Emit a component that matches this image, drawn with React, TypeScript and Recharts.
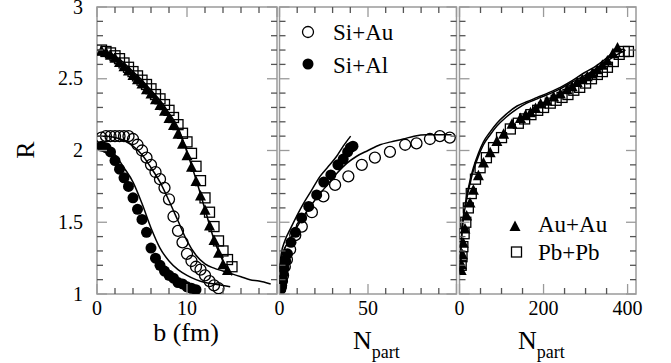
import React from "react"
import { ComposedChart, Line, Scatter, XAxis, YAxis, ReferenceArea } from "recharts"

const FONT = "Liberation Serif, Tinos, Times New Roman, serif"
const W = 671
const H = 363
const PLOT_TOP = 7
const PLOT_BOTTOM = 294
const PLOT_H = PLOT_BOTTOM - PLOT_TOP

// shared R axis
const rTicks = [1, 1.1, 1.2, 1.3, 1.4, 1.5, 1.6, 1.7, 1.8, 1.9, 2, 2.1, 2.2, 2.3, 2.4, 2.5, 2.6, 2.7, 2.8, 2.9, 3]
const rMajor = [1, 1.5, 2, 2.5, 3]

// panel 1 : b (fm)
const bTicks = [0, 2, 4, 6, 8, 10, 12, 14, 16, 18, 20]
const bMajor = [0, 10, 20]
const bLabels = [0, 10]

const auAuB = [0.5, 1, 1.5, 2, 2.5, 3, 3.5, 4, 4.5, 5, 5.5, 6, 6.5, 7, 7.5, 8, 8.5, 9, 9.5, 10, 10.5, 11, 11.5, 12, 12.5, 13, 13.5, 14, 14.5]
const auAuBR = [2.69, 2.68, 2.66, 2.64, 2.61, 2.58, 2.55, 2.52, 2.49, 2.46, 2.42, 2.39, 2.35, 2.31, 2.27, 2.22, 2.17, 2.11, 2.04, 1.96, 1.88, 1.78, 1.68, 1.58, 1.47, 1.37, 1.28, 1.2, 1.16]
const pbPbB = [0.5, 1, 1.5, 2, 2.5, 3, 3.5, 4, 4.5, 5, 5.5, 6, 6.5, 7, 7.5, 8, 8.5, 9, 9.5, 10, 10.5, 11, 11.5, 12, 12.5, 13, 13.5, 14, 14.5, 15]
const pbPbBR = [2.7, 2.69, 2.68, 2.66, 2.64, 2.61, 2.58, 2.55, 2.52, 2.49, 2.46, 2.43, 2.39, 2.36, 2.32, 2.28, 2.23, 2.18, 2.12, 2.06, 1.98, 1.89, 1.79, 1.67, 1.57, 1.47, 1.37, 1.3, 1.24, 1.19]
const siAuB = [0.5, 1, 1.5, 2, 2.5, 3, 3.5, 4, 4.5, 5, 5.5, 6, 6.5, 7, 7.5, 8, 8.5, 9, 9.5, 10, 10.5, 11, 11.5, 12, 12.5, 13, 13.5]
const siAuBR = [2.09, 2.1, 2.1, 2.1, 2.1, 2.1, 2.1, 2.08, 2.04, 2.0, 1.95, 1.9, 1.85, 1.8, 1.74, 1.66, 1.54, 1.44, 1.36, 1.28, 1.23, 1.19, 1.17, 1.13, 1.09, 1.06, 1.04]
const siAlB = [0.5, 1, 1.5, 2, 2.5, 3, 3.5, 4, 4.5, 5, 5.5, 6, 6.5, 7, 7.5, 8, 8.5, 9, 9.5, 10, 10.5, 11]
const siAlBR = [2.03, 2.02, 1.99, 1.93, 1.87, 1.81, 1.75, 1.67, 1.59, 1.52, 1.43, 1.32, 1.25, 1.2, 1.16, 1.13, 1.11, 1.08, 1.07, 1.05, 1.04, 1.03]

const auAuLineB = [0, 1, 2, 3, 4, 5, 6, 7, 8, 9, 10, 11, 12, 13, 14, 15]
const auAuLineBR = [2.7, 2.69, 2.66, 2.61, 2.55, 2.49, 2.42, 2.35, 2.26, 2.16, 1.99, 1.8, 1.59, 1.38, 1.23, 1.13]
const siAuLineB = [0, 1, 2, 3, 4, 5, 6, 7, 8, 9, 10, 11, 12, 13, 14, 15, 16, 17, 18, 19.3]
const siAuLineBR = [2.1, 2.1, 2.09, 2.07, 2.03, 1.97, 1.88, 1.78, 1.65, 1.51, 1.37, 1.27, 1.21, 1.18, 1.16, 1.14, 1.12, 1.1, 1.09, 1.07]
const siAlLineB = [0, 1, 2, 3, 4, 5, 6, 7, 8, 9, 10, 11, 12, 13, 14, 14.8]
const siAlLineBR = [2.05, 2.03, 1.97, 1.88, 1.78, 1.63, 1.46, 1.32, 1.23, 1.17, 1.13, 1.1, 1.08, 1.07, 1.06, 1.05]

// panel 2 : N_part, light systems
const nTicks2 = [0, 10, 20, 30, 40, 50, 60, 70, 80, 90, 100]
const nMajor2 = [0, 50, 100]
const nLabels2 = [0, 50]

const siAuN = [96.2, 90.6, 85, 77.4, 71, 62.4, 53.9, 46.5, 38.9, 31.4, 24.8, 18.3, 12.6, 8.9, 6, 4.2, 3, 2, 1.4, 0.9, 0.5]
const siAuNR = [2.09, 2.1, 2.08, 2.05, 2.04, 1.99, 1.95, 1.9, 1.82, 1.76, 1.68, 1.57, 1.47, 1.41, 1.31, 1.24, 1.19, 1.13, 1.09, 1.06, 1.04]
const siAlN = [41.5, 40, 38.5, 36, 33, 29, 25, 21, 16.5, 12.5, 9, 6.5, 4.5, 3.5, 2.6, 2, 1.5, 1.2, 1, 0.8, 0.6]
const siAlNR = [2.03, 2.02, 1.99, 1.94, 1.9, 1.83, 1.78, 1.69, 1.61, 1.53, 1.43, 1.36, 1.28, 1.23, 1.18, 1.14, 1.1, 1.08, 1.06, 1.04, 1.03]

const siAlLineN = [0.2, 1, 3, 6, 10, 13.5, 18, 22.9, 27, 32.3, 36, 40.2]
const siAlLineNR = [1.2, 1.28, 1.37, 1.45, 1.55, 1.63, 1.72, 1.82, 1.88, 1.96, 2.03, 2.1]
const siAuLineN = [0.2, 1, 3, 6, 10, 13.5, 18, 22.9, 27, 32.3, 38, 43.6, 50, 56.8, 63, 69.9, 76, 83.1, 90, 97.2]
const siAuLineNR = [1.17, 1.25, 1.32, 1.38, 1.47, 1.54, 1.62, 1.7, 1.76, 1.84, 1.91, 1.96, 2.0, 2.04, 2.06, 2.08, 2.1, 2.11, 2.11, 2.11]

// panel 3 : N_part, heavy systems
const nTicks3 = [0, 50, 100, 150, 200, 250, 300, 350, 400]
const nMajor3 = [0, 200, 400]
const nLabels3 = [0, 200, 400]

const auAuN = [376, 365, 352, 340, 328, 316, 304, 292, 280, 268, 256, 240, 224, 208, 193, 181, 169, 157, 145, 125, 105, 89, 73, 57, 45, 33, 25, 17, 13, 9, 7, 5, 4]
const auAuNR = [2.71, 2.67, 2.62, 2.59, 2.56, 2.53, 2.51, 2.49, 2.47, 2.44, 2.42, 2.39, 2.37, 2.34, 2.32, 2.29, 2.26, 2.24, 2.22, 2.18, 2.11, 2.06, 1.98, 1.91, 1.82, 1.72, 1.63, 1.54, 1.45, 1.35, 1.27, 1.2, 1.16]
const pbPbN = [402, 392, 380, 366, 352, 340, 328, 314, 300, 286, 272, 258, 244, 230, 216, 200, 186, 170, 155, 140, 121, 100, 81, 64, 49, 38, 28, 21, 15, 11, 8, 6, 4]
const pbPbNR = [2.69, 2.69, 2.67, 2.62, 2.58, 2.55, 2.53, 2.5, 2.47, 2.44, 2.42, 2.39, 2.37, 2.35, 2.33, 2.3, 2.28, 2.25, 2.22, 2.19, 2.15, 2.09, 2.02, 1.95, 1.88, 1.8, 1.7, 1.6, 1.5, 1.42, 1.33, 1.26, 1.2]

const auAuLineN = [1, 3, 6, 10, 17, 25, 33, 45, 57, 73, 89, 110, 137, 160, 185, 210, 240, 270, 296, 320, 344, 360, 376]
const auAuLineNR = [1.15, 1.3, 1.45, 1.56, 1.68, 1.79, 1.88, 1.98, 2.06, 2.13, 2.19, 2.25, 2.31, 2.34, 2.37, 2.4, 2.44, 2.49, 2.54, 2.58, 2.63, 2.67, 2.72]
const pbPbLineN = [1, 3, 6, 10, 17, 25, 33, 45, 57, 73, 89, 110, 137, 160, 185, 210, 240, 270, 296, 320, 344, 370, 395]
const pbPbLineNR = [1.14, 1.28, 1.43, 1.54, 1.66, 1.77, 1.86, 1.96, 2.04, 2.11, 2.17, 2.23, 2.29, 2.33, 2.36, 2.39, 2.43, 2.48, 2.52, 2.56, 2.61, 2.66, 2.7]

type Pt = { x: number; y: number }
const zip = (xs: number[], ys: number[]): Pt[] => xs.map((x, i) => ({ x, y: ys[i] }))

const openCircle = (p: any) => <circle cx={p.cx} cy={p.cy} r={5.5} fill="none" stroke="#000" strokeWidth={1.3} />
const dot = (p: any) => <circle cx={p.cx} cy={p.cy} r={5.5} fill="#000" />
const triangle = (p: any) => (
  <polygon points={`${p.cx},${p.cy - 6.5} ${p.cx - 5.5},${p.cy + 4} ${p.cx + 5.5},${p.cy + 4}`} fill="#000" />
)
const square = (p: any) => (
  <rect x={p.cx - 5} y={p.cy - 5} width={10} height={10} fill="none" stroke="#000" strokeWidth={1.3} />
)

const serif = { fontFamily: FONT }

function XTick(props: any) {
  const { x, y, payload, major, labels } = props
  const v = payload.value
  const isMajor = major.includes(v)
  const len = isMajor ? 10 : 6
  const col = isMajor ? "#9a9a9a" : "#555"
  return (
    <g>
      <line x1={x} x2={x} y1={y} y2={y - len} stroke={col} strokeWidth={1.3} />
      <line x1={x} x2={x} y1={y - PLOT_H} y2={y - PLOT_H + len} stroke={col} strokeWidth={1.3} />
      {labels.includes(v) && (
        <text x={x} y={y + 21} textAnchor="middle" fontSize={20} style={serif} fill="#000">{v}</text>
      )}
    </g>
  )
}

function YTick(props: any) {
  const { x, y, payload, plotW, showLabel } = props
  const v = payload.value
  const isMajor = rMajor.includes(v)
  const len = isMajor ? 10 : 6
  const col = isMajor ? "#9a9a9a" : "#555"
  return (
    <g>
      <line x1={x} x2={x + len} y1={y} y2={y} stroke={col} strokeWidth={1.3} />
      <line x1={x + plotW} x2={x + plotW - len} y1={y} y2={y} stroke={col} strokeWidth={1.3} />
      {showLabel && isMajor && (
        <text x={x - 14} y={y + 6.5} textAnchor="end" fontSize={20} style={serif} fill="#000">{v}</text>
      )}
    </g>
  )
}

interface PanelProps {
  left: number
  right: number
  domain: [number, number]
  xTicks: number[]
  xMajor: number[]
  xLabels: number[]
  showR: boolean
  children: React.ReactNode
}

function Panel({ left, right, domain, xTicks, xMajor, xLabels, showR, children }: PanelProps) {
  return (
    <div style={{ position: "absolute", left: 0, top: 0 }}>
      <ComposedChart
        width={W}
        height={H}
        margin={{ top: PLOT_TOP, bottom: H - PLOT_BOTTOM - 20, left: left - 20, right: W - right }}
      >
        <XAxis
          dataKey="x"
          type="number"
          domain={domain}
          ticks={xTicks}
          interval={0}
          allowDataOverflow
          tickLine={false}
          axisLine={false}
          tickSize={0}
          tickMargin={0}
          height={20}
          tick={(p: any) => <XTick {...p} major={xMajor} labels={xLabels} />}
        />
        <YAxis
          dataKey="y"
          type="number"
          domain={[1, 3]}
          ticks={rTicks}
          interval={0}
          allowDataOverflow
          tickLine={false}
          axisLine={false}
          tickSize={0}
          tickMargin={0}
          width={20}
          tick={(p: any) => <YTick {...p} plotW={right - left} showLabel={showR} />}
        />
        <ReferenceArea x1={domain[0]} x2={domain[1]} y1={1} y2={3} fill="none" fillOpacity={0} stroke="#9a9a9a" strokeWidth={1.5} />
        {children}
      </ComposedChart>
    </div>
  )
}

const lineProps = {
  dataKey: "y",
  type: "monotone" as const,
  stroke: "#000",
  strokeWidth: 1.5,
  dot: false,
  activeDot: false,
  isAnimationActive: false,
}

export default function App() {
  return (
    <div style={{ position: "fixed", left: 0, top: 0, width: W, height: H, background: "#fff", overflow: "hidden" }}>
      <Panel left={97} right={277} domain={[0, 20]} xTicks={bTicks} xMajor={bMajor} xLabels={bLabels} showR>
        <Line {...lineProps} data={zip(auAuLineB, auAuLineBR)} />
        <Line {...lineProps} data={zip(siAuLineB, siAuLineBR)} />
        <Line {...lineProps} data={zip(siAlLineB, siAlLineBR)} />
        <Scatter data={zip(pbPbB, pbPbBR)} shape={square} isAnimationActive={false} />
        <Scatter data={zip(auAuB, auAuBR)} shape={triangle} isAnimationActive={false} />
        <Scatter data={zip(siAuB, siAuBR)} shape={openCircle} isAnimationActive={false} />
        <Scatter data={zip(siAlB, siAlBR)} shape={dot} isAnimationActive={false} />
      </Panel>
      <Panel left={279.5} right={456.5} domain={[0, 100]} xTicks={nTicks2} xMajor={nMajor2} xLabels={nLabels2} showR={false}>
        <Line {...lineProps} data={zip(siAuLineN, siAuLineNR)} />
        <Line {...lineProps} data={zip(siAlLineN, siAlLineNR)} />
        <Scatter data={zip(siAuN, siAuNR)} shape={openCircle} isAnimationActive={false} />
        <Scatter data={zip(siAlN, siAlNR)} shape={dot} isAnimationActive={false} />
      </Panel>
      <Panel left={459.5} right={636} domain={[0, 420]} xTicks={nTicks3} xMajor={nMajor3} xLabels={nLabels3} showR={false}>
        <Line {...lineProps} data={zip(auAuLineN, auAuLineNR)} />
        <Line {...lineProps} data={zip(pbPbLineN, pbPbLineNR)} />
        <Scatter data={zip(pbPbN, pbPbNR)} shape={square} isAnimationActive={false} />
        <Scatter data={zip(auAuN, auAuNR)} shape={triangle} isAnimationActive={false} />
      </Panel>
      <svg width={W} height={H} style={{ position: "absolute", left: 0, top: 0, pointerEvents: "none", fontFamily: FONT }}>
        <text x={25} y={150} transform="rotate(-90 25 150)" textAnchor="middle" dominantBaseline="central" fontSize={26}>R</text>
        <text x={186} y={341} textAnchor="middle" fontSize={26}>b (fm)</text>
        <text x={353} y={349} fontSize={26}>N<tspan fontSize={18} dy={9}>part</tspan></text>
        <text x={518} y={349} fontSize={26}>N<tspan fontSize={18} dy={9}>part</tspan></text>
        {/* legends */}
        <circle cx={308} cy={32} r={5.5} fill="none" stroke="#000" strokeWidth={1.3} />
        <text x={333} y={40} fontSize={23}>Si+Au</text>
        <circle cx={308} cy={64} r={5.5} fill="#000" />
        <text x={333} y={73} fontSize={23}>Si+Al</text>
        <polygon points="515,220.5 509.5,231 520.5,231" fill="#000" />
        <text x={538} y={232} fontSize={23}>Au+Au</text>
        <rect x={511.5} y={247} width={10} height={10} fill="none" stroke="#000" strokeWidth={1.3} />
        <text x={538} y={260} fontSize={23}>Pb+Pb</text>
      </svg>
    </div>
  )
}
